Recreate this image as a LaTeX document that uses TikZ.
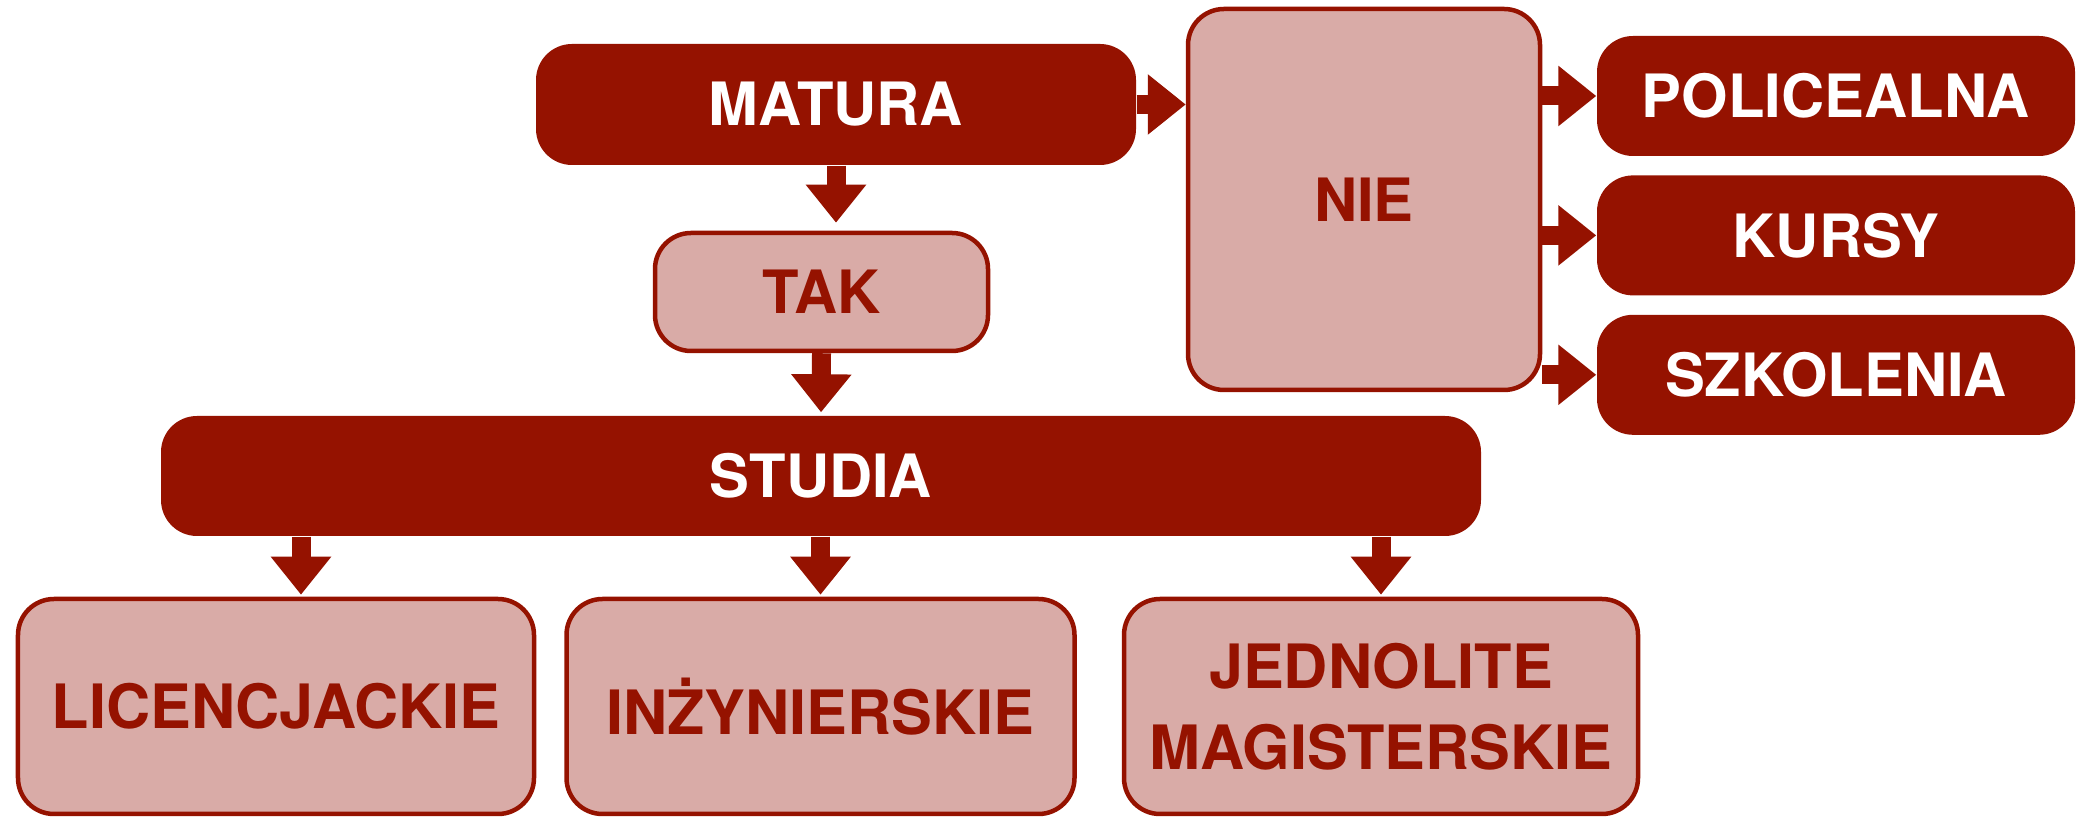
\documentclass[tikz,border=0pt]{standalone}
\usepackage{fontspec}
\setmainfont{TeX Gyre Heros}
\usepackage{tikz}
\usetikzlibrary{arrows.meta}
\usetikzlibrary{positioning}

\definecolor{darkred}{RGB}{149,18,0}
\definecolor{lightred}{RGB}{217,171,167}

\begin{document}
\begin{tikzpicture}[big arrow/.style={draw=darkred,line width=0.19cm,-{Triangle[length=0.38cm,width=0.58cm]}},
  dark node/.style={rectangle,rounded corners=0.36cm,fill=darkred,text=white,font=\fontsize{17}{21}\selectfont\bfseries,inner sep=0pt},
  light node/.style={rectangle,rounded corners=0.36cm,fill=lightred,draw=darkred,line width=0.045cm,text=darkred,font=\fontsize{17}{21}\selectfont\bfseries,inner sep=0pt},
  bottom node/.style={light node,minimum height=2.15cm,align=center,font=\fontsize{17.4}{23}\selectfont\bfseries}]

  \useasboundingbox (0,0) rectangle (20.9,-8.18);

  \node[dark node,minimum width=6cm,minimum height=1.21cm] (matura) at (8.36,-1.045) {MATURA};
  \node[light node,minimum width=3.52cm,minimum height=3.81cm] (nie) at (13.64,-1.995) {NIE};
  \node[dark node,minimum width=4.78cm,minimum height=1.2cm] (policealna) at (18.36,-0.96) {POLICEALNA};
  \node[dark node,minimum width=4.78cm,minimum height=1.2cm] (kursy) [below=0.18cm of policealna] {KURSY};
  \node[dark node,minimum width=4.78cm,minimum height=1.2cm] (szkolenia) [below=0.18cm of kursy] {SZKOLENIA};
  \node[light node,minimum width=3.33cm,minimum height=1.18cm] (tak) at (8.215,-2.92) {TAK};
  \node[dark node,minimum width=13.2cm,minimum height=1.2cm] (studia) at (8.21,-4.76) {STUDIA};
  \node[bottom node,minimum width=5.16cm] (lic) at (2.76,-7.065) {LICENCJACKIE};
  \node[bottom node,minimum width=5.08cm] (inz) [right=0.28cm of lic] {INŻYNIERSKIE};
  \node[bottom node,minimum width=5.14cm] (jedn) [right=0.45cm of inz] {JEDNOLITE\\MAGISTERSKIE};

  \coordinate (licin) at ([xshift=0.25cm]lic.north);

  \draw[big arrow,shorten >=0.08cm] (matura.south) -- (tak.north -| matura.south);
  \draw[big arrow,shorten >=0.03cm] (tak.south) -- (studia.north);
  \draw[big arrow] (matura.east) -- (nie.west |- matura.east);
  \foreach \t in {policealna,kursy,szkolenia}
    \draw[big arrow] (nie.east |- \t.west) -- (\t.west);
  \draw[big arrow,shorten >=0.02cm] (studia.south -| licin) -- (licin);
  \foreach \t in {inz,jedn}
    \draw[big arrow,shorten >=0.02cm] (studia.south -| \t.north) -- (\t.north);
\end{tikzpicture}
\end{document}
